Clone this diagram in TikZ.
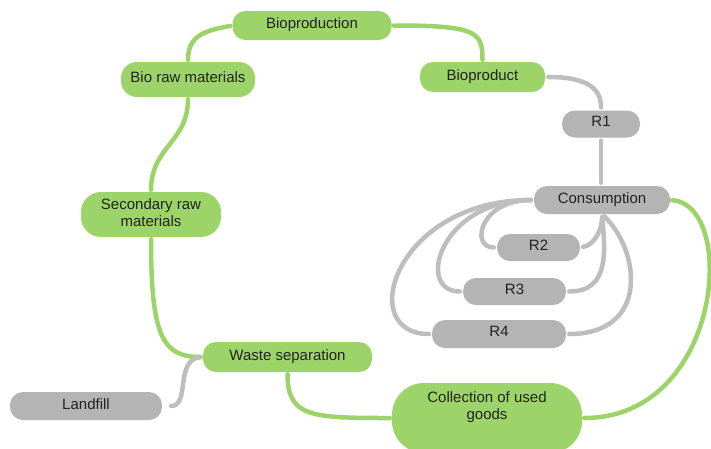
\documentclass[tikz,border=0pt]{standalone}
\usepackage{fontspec}
\setmainfont{Liberation Sans}
\definecolor{cGreen}{RGB}{157,212,106}
\definecolor{cGreenLine}{RGB}{157,212,106}
\definecolor{cGray}{RGB}{180,180,180}
\definecolor{cGrayLine}{RGB}{190,190,190}
\definecolor{cText}{RGB}{34,34,34}
\newcommand{\up}[1]{\raisebox{4.5pt}{#1}}
\begin{document}
\begin{tikzpicture}[x=1pt,y=-1pt,
  base/.style={rounded corners=13pt, inner sep=0pt, text=cText,
    font=\fontsize{15}{17.5}\selectfont, align=center},
  gbox/.style={base, fill=cGreen},
  ybox/.style={base, fill=cGray},
  gconn/.style={draw=cGreenLine, line width=4.5pt, line cap=round, shorten <=2pt, shorten >=2pt},
  yconn/.style={draw=cGrayLine, line width=4.5pt, line cap=round, shorten <=3pt, shorten >=3pt}]
\useasboundingbox (0,0) rectangle (711,448);
\fill[white] (0,0) rectangle (711,448);
\clip (0,0) rectangle (711,448);

% nodes
\node[gbox, minimum width=159pt, minimum height=29pt] (bp) at (312,25.5) {\up{Bioproduction}};
\node[gbox, minimum width=134pt, minimum height=35pt, rounded corners=16pt] (brm) at (188,79.5) {\up{Bio raw materials}};
\node[gbox, minimum width=125pt, minimum height=30pt] (bpd) at (482.5,77) {\up{Bioproduct}};
\node[ybox, minimum width=78pt, minimum height=27pt] (r1) at (601,124) {\up{R1}};
\node[ybox, minimum width=136pt, minimum height=28pt] (cons) at (602,200) {\up{Consumption}};
\node[ybox, minimum width=83pt, minimum height=27pt] (r2) at (538.5,247.5) {\up{R2}};
\node[ybox, minimum width=103pt, minimum height=27pt] (r3) at (514.5,291.5) {\up{R3}};
\node[ybox, minimum width=134pt, minimum height=28pt] (r4) at (499,334) {\up{R4}};
\node[gbox, minimum width=140pt, minimum height=45pt, rounded corners=20pt] (srm) at (151,214.5) {\raisebox{3pt}{\begin{tabular}{@{}c@{}}Secondary raw\\materials\end{tabular}}};
\node[gbox, minimum width=169pt, minimum height=30pt] (ws) at (287.5,357) {\up{Waste separation}};
\node[ybox, minimum width=152pt, minimum height=28pt] (lf) at (86,406) {\up{Landfill}};
\node[gbox, minimum width=190pt, minimum height=70pt, rounded corners=32pt] (col) at (487,418) {\raisebox{7pt}[0pt][0pt]{\begin{tabular}{@{}c@{}}Collection of used\\goods\end{tabular}}};

% green connectors
\draw[gconn] (brm.north) .. controls +(0,-28) and +(-25,5) .. (bp.west);
\draw[gconn] (bp.east) .. controls +(85,0) and +(0,-30) .. (bpd.north);
\draw[gconn] (srm.north) .. controls +(0,-45) and +(0,45) .. (brm.south);
\draw[gconn] (srm.south) .. controls +(0,100) and +(-40,0) .. (ws.west);
\draw[gconn] (ws.south) .. controls +(0,45) and +(-80,0) .. (col.west);
\draw[gconn] (cons.east) .. controls +(68,5) and +(140,0) .. (col.east);

% gray connectors
\draw[yconn] (bpd.east) .. controls +(45,0) and +(0,-20) .. (r1.north);
\draw[yconn] (r1.south) -- (r1.south |- cons.north);
\draw[yconn] (cons.west) .. controls +(-54,0) and +(-27,0) .. (r2.west);
\draw[yconn] (cons.west) .. controls +(-94,0) and +(-48,0) .. (r3.west);
\draw[yconn] (cons.west) .. controls +(-139,0) and +(-77,0) .. (r4.west);
\draw[yconn] (r2.east) .. controls +(15,-3) and +(0,15) .. (cons.south);
\draw[yconn] (r3.east) .. controls +(44,0) and +(3,36) .. (cons.south);
\draw[yconn] (r4.east) .. controls +(84,0) and +(38,36) .. (cons.south);
\draw[yconn, shorten <=9pt] (lf.east) .. controls +(28,0) and +(-28,3) .. (ws.west);
\end{tikzpicture}
\end{document}
